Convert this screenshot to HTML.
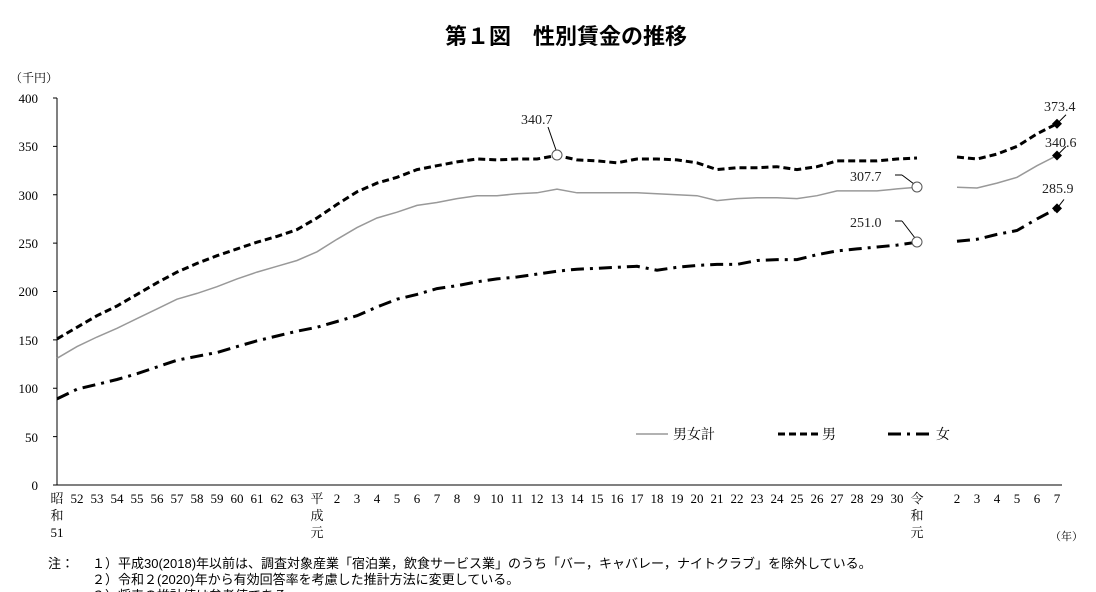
<!DOCTYPE html>
<html><head><meta charset="utf-8"><style>
body{margin:0;background:#fff;}
svg{display:block;font-family:"Liberation Serif","Noto Serif CJK SC","Noto Sans CJK JP",serif;}
</style></head><body>
<svg id="s" width="1096" height="592" xmlns="http://www.w3.org/2000/svg">
<text x="566" y="44" font-size="22" text-anchor="middle" font-weight="bold" font-family="Liberation Sans,Noto Sans CJK JP,sans-serif">第１図　性別賃金の推移</text>
<text x="10" y="82" font-size="12">（千円）</text>
<g font-size="13" text-anchor="end">
<text x="38" y="103">400</text><text x="38" y="151">350</text><text x="38" y="200">300</text><text x="38" y="248">250</text><text x="38" y="296">200</text><text x="38" y="345">150</text><text x="38" y="393">100</text><text x="38" y="442">50</text><text x="38" y="490">0</text>
</g>
<g stroke="#000" stroke-width="1">
<line x1="57" y1="98" x2="57" y2="485"/><line x1="57" y1="485" x2="1062" y2="485"/>
</g>
<g id="ticks" stroke="#000"></g>
<g font-size="13" text-anchor="middle" id="xl">
<text x="57" y="503">昭</text><text x="57" y="520">和</text><text x="57" y="537">51</text>
<text x="77" y="503">52</text><text x="97" y="503">53</text><text x="117" y="503">54</text><text x="137" y="503">55</text><text x="157" y="503">56</text><text x="177" y="503">57</text><text x="197" y="503">58</text><text x="217" y="503">59</text><text x="237" y="503">60</text><text x="257" y="503">61</text><text x="277" y="503">62</text><text x="297" y="503">63</text>
<text x="317" y="503">平</text><text x="317" y="520">成</text><text x="317" y="537">元</text>
<text x="337" y="503">2</text><text x="357" y="503">3</text><text x="377" y="503">4</text><text x="397" y="503">5</text><text x="417" y="503">6</text><text x="437" y="503">7</text><text x="457" y="503">8</text><text x="477" y="503">9</text><text x="497" y="503">10</text><text x="517" y="503">11</text><text x="537" y="503">12</text><text x="557" y="503">13</text><text x="577" y="503">14</text><text x="597" y="503">15</text><text x="617" y="503">16</text><text x="637" y="503">17</text><text x="657" y="503">18</text><text x="677" y="503">19</text><text x="697" y="503">20</text><text x="717" y="503">21</text><text x="737" y="503">22</text><text x="757" y="503">23</text><text x="777" y="503">24</text><text x="797" y="503">25</text><text x="817" y="503">26</text><text x="837" y="503">27</text><text x="857" y="503">28</text><text x="877" y="503">29</text><text x="897" y="503">30</text>
<text x="917" y="503">令</text><text x="917" y="520">和</text><text x="917" y="537">元</text>
<text x="957" y="503">2</text><text x="977" y="503">3</text><text x="997" y="503">4</text><text x="1017" y="503">5</text><text x="1037" y="503">6</text><text x="1057" y="503">7</text>
</g>
<text x="1050" y="540" font-size="11">（年）</text>
<g id="lines" fill="none"></g>
<g stroke="#000" fill="#fff" stroke-width="1">
<line x1="548" y1="127" x2="556" y2="150" />
<line x1="895" y1="175" x2="902" y2="175"/><line x1="902" y1="175" x2="914" y2="184"/>
<line x1="895" y1="221" x2="902" y2="221"/><line x1="902" y1="221" x2="915" y2="238"/>
<circle cx="557" cy="155" r="5" stroke="#555"/>
<circle cx="917" cy="187" r="5" stroke="#555"/>
<circle cx="917" cy="242" r="5" stroke="#555"/>
</g>
<g fill="#000" id="dia"></g>
<g font-size="14" fill="#222">
<text x="521" y="124">340.7</text>
<text x="850" y="181">307.7</text>
<text x="850" y="227">251.0</text>
<text x="1044" y="111">373.4</text>
<text x="1045" y="147">340.6</text>
<text x="1042" y="193">285.9</text>
</g>
<g font-size="14">
<line x1="636" y1="434" x2="668" y2="434" stroke="#999" stroke-width="1.5"/><text x="673" y="439">男女計</text>
<line x1="778" y1="434" x2="818" y2="434" stroke="#000" stroke-width="3" stroke-dasharray="7,4"/><text x="822" y="439">男</text>
<line x1="888" y1="434" x2="930" y2="434" stroke="#000" stroke-width="3" stroke-dasharray="13,6,3,6"/><text x="936" y="439">女</text>
</g>
<g font-size="13" font-family="Liberation Sans,Noto Sans CJK JP,sans-serif">
<text x="48" y="568">注：</text>
<text x="92" y="568">１）平成30(2018)年以前は、調査対象産業「宿泊業，飲食サービス業」のうち「バー，キャバレー，ナイトクラブ」を除外している。</text>
<text x="92" y="584">２）令和２(2020)年から有効回答率を考慮した推計方法に変更している。</text>
<text x="92" y="600">３）将来の推計値は参考値である。</text>
</g>
</svg>
<script>
var W=[89,99,104,109,115,122,129,133,137,143,149,154,159,163,169,175,184,192,197,203,206,210,213,215,218,221,223,224,225,226,222,225,227,228,228,232,233,233,238,242,244,246,248,251,null,252,254,259,263,275,285.9];
var M=[151,163,175,185,197,209,220,229,237,244,251,257,264,276,290,303,312,318,326,330,334,337,336,337,337,340.7,336,335,333,337,337,336,333,326,328,328,329,326,329,335,335,335,337,338,null,339,337,342,350,363,373.4];
var T=[131,143,153,162,172,182,192,198,205,213,220,226,232,241,254,266,276,282,289,292,296,299,299,301,302,305.8,302,302,302,302,301,300,299,294,296,297,297,296,299,304,304,304,306,307.7,null,307.7,307,312,318,330,340.6];
function X(i){return 57+20*i} function Y(v){return 485-v*0.9675}
function path(a){var d='',st=true;a.forEach(function(v,i){if(v==null){st=true;return}d+=(st?'M':'L')+X(i)+','+Y(v).toFixed(1);st=false});return d}
var g=document.getElementById('lines'),ns='http://www.w3.org/2000/svg';
function add(a,c,w,da){var p=document.createElementNS(ns,'path');p.setAttribute('d',path(a));p.setAttribute('stroke',c);p.setAttribute('stroke-width',w);if(da)p.setAttribute('stroke-dasharray',da);g.appendChild(p)}
add(T,'#999',1.5);add(M,'#000',3,'7,4');add(W,'#000',3,'13,6,3,6');
function ln(x1,y1,x2,y2){var l=document.createElementNS(ns,'line');l.setAttribute('x1',x1);l.setAttribute('y1',y1);l.setAttribute('x2',x2);l.setAttribute('y2',y2);l.setAttribute('stroke','#000');g.appendChild(l)}
ln(1057,Y(373.4),1066,Y(373.4)-9);ln(1057,Y(340.6),1066,Y(340.6)-9);ln(1057,Y(285.9),1064,Y(285.9)-9);
var dg=document.getElementById('dia');[373.4,340.6,285.9].forEach(function(v){var p=document.createElementNS(ns,'path');var x=1057,y=Y(v);p.setAttribute('d','M'+x+','+(y-5)+'L'+(x+5)+','+y+'L'+x+','+(y+5)+'L'+(x-5)+','+y+'Z');dg.appendChild(p)});
var tg=document.getElementById('ticks');for(var i=0;i<=8;i++){var l=document.createElementNS(ns,'line');l.setAttribute('x1',53);l.setAttribute('x2',57);l.setAttribute('y1',Y(i*50));l.setAttribute('y2',Y(i*50));tg.appendChild(l)}
</script>
</body></html>
